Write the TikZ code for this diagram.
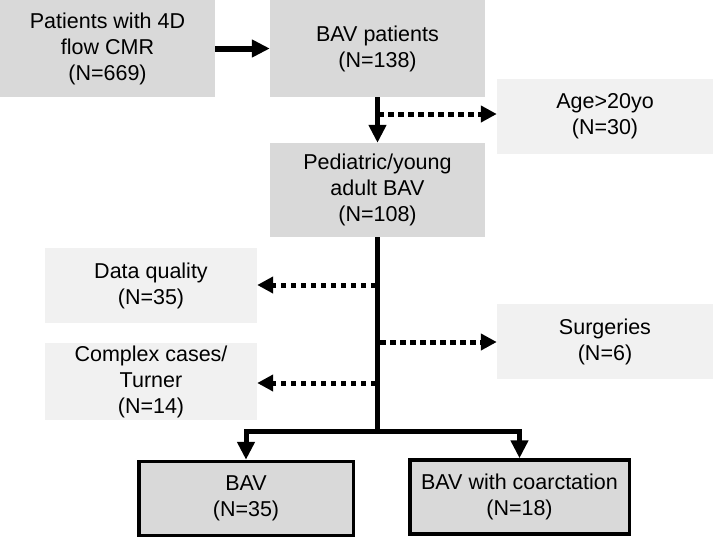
\documentclass[tikz,border=0pt]{standalone}
\usepackage{fontspec}
\setmainfont{Liberation Sans}
\usetikzlibrary{arrows.meta}

\definecolor{boxgray}{RGB}{217,217,217}
\definecolor{palegray}{RGB}{241,241,241}

\tikzset{
  Box/.style = {inner sep=0pt, align=center, font=\fontsize{21.5}{26}\selectfont},
  MainBox/.style = {Box, fill=boxgray, minimum width=215pt},
  SideBox/.style = {Box, fill=palegray, minimum height=75pt},
  EndBox/.style = {Box, fill=boxgray, draw=black, line width=3.5pt, minimum height=74pt},
  MainArrow/.style = {line width=5pt, -{Triangle[length=18pt,width=17pt]}},
  DotArrow/.style = {line width=5pt, dash pattern=on 5.5pt off 4.5pt, -{Triangle[length=16pt,width=16pt]}}
}

\begin{document}
\begin{tikzpicture}[x=1pt,y=-1pt]
          \useasboundingbox (0,0) rectangle (713,539);
          \node[MainBox, minimum height=97pt] (p_0) at (107.5,48.5) {Patients with 4D\\flow CMR\\(N=669)};
          \node[MainBox, minimum height=97pt] (p_1) at (377.5,48.5) {BAV patients\\(N=138)};
          \node[MainBox, minimum height=94pt] (p_2) at (377.5,190) {Pediatric/young\\adult BAV\\(N=108)};

          % excluded
          \node[SideBox, minimum width=216pt] (x_0) at (605,116.5) {Age>20yo\\(N=30)};
          \node[SideBox, minimum width=212pt] (x_1) at (151,285.5) {Data quality\\(N=35)};
          \node[SideBox, minimum width=216pt] (x_2) at (605,341.5) {Surgeries\\(N=6)};
          \node[SideBox, minimum width=212pt, minimum height=77pt] (x_3) at (151,381.5) {Complex cases/\\Turner\\(N=14)};

          % groups
          \node[EndBox, minimum width=214.5pt] (g_0) at (246,498.5) {BAV\\(N=35)};
          \node[EndBox, minimum width=219.5pt] (g_1) at (519.5,497) {BAV with coarctation\\(N=18)};

          \coordinate (c_0) at (378,114);
          \coordinate (c_1) at (376,285);
          \coordinate (c_2) at (380,342);
          \coordinate (c_3) at (376,383);
          \coordinate (split) at (377.5,431);

          % main flow
          \draw[MainArrow, line width=6pt] (p_0) -- (p_1);
          \draw[MainArrow] (p_1) -- (p_2);
          \draw[line width=5pt] (p_2) -- (split);
          \draw[MainArrow, line join=miter] (split) -| (g_0);
          \draw[MainArrow, line join=miter] (split) -| (g_1);

          % exclusions
          \draw[DotArrow] (c_0) -- (c_0 -| x_0.west);
          \draw[DotArrow] (c_1) -- (c_1 -| x_1.east);
          \draw[DotArrow] (c_2) -- (c_2 -| x_2.west);
          \draw[DotArrow] (c_3) -- (c_3 -| x_3.east);
        \end{tikzpicture}
\end{document}
